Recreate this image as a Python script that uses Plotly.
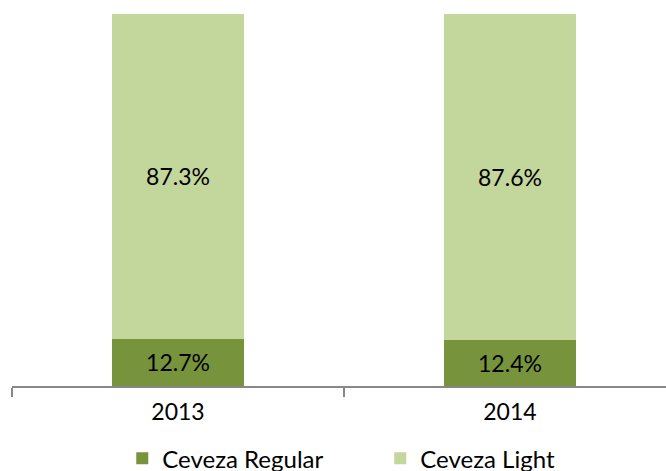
import plotly.graph_objects as go

# Share of beer volume by type, per year (percent)
years = ["2013", "2014"]
regular = [12.7, 12.4]
light = [87.3, 87.6]

series_names = ["Ceveza Regular", "Ceveza Light"]
colors = ["#77933C", "#C3D69B"]

FONT = "Lato"

fig = go.Figure()
for name, vals, col in zip(series_names, [regular, light], colors):
    fig.add_trace(go.Bar(
        x=years,
        y=vals,
        name=name,
        marker=dict(color=col, line=dict(width=0)),
        texttemplate="%{y:.1f}%",
        textposition="inside",
        insidetextanchor="middle",
        textangle=0,
        textfont=dict(family=FONT, size=23, color="#000000"),
        hoverinfo="skip",
    ))

fig.update_layout(
    width=666,
    height=471,
    barmode="stack",
    bargap=0.6,
    margin=dict(l=12, r=0, t=14, b=85, autoexpand=False),
    paper_bgcolor="white",
    plot_bgcolor="white",
    font=dict(family=FONT, size=23, color="#000000"),
    uniformtext=dict(minsize=20, mode="show"),
    showlegend=True,
    legend=dict(
        orientation="h",
        x=0.1686, xanchor="left",
        y=-0.195, yanchor="middle",
        font=dict(family=FONT, size=24, color="#000000"),
        traceorder="normal",
        entrywidth=213,
        entrywidthmode="pixels",
        itemwidth=30,
        bgcolor="rgba(0,0,0,0)",
    ),
    xaxis=dict(
        type="category",
        range=[-0.5, 1.47],
        tickson="boundaries",
        ticks="outside",
        ticklen=9,
        tickwidth=2,
        tickcolor="#878787",
        showline=True,
        linecolor="#878787",
        linewidth=2,
        showgrid=False,
        zeroline=False,
        ticklabelstandoff=4,
        tickfont=dict(family=FONT, size=23, color="#000000"),
    ),
    yaxis=dict(
        range=[0, 100],
        visible=False,
        showgrid=False,
        zeroline=False,
    ),
)

fig.write_html("out.html")
